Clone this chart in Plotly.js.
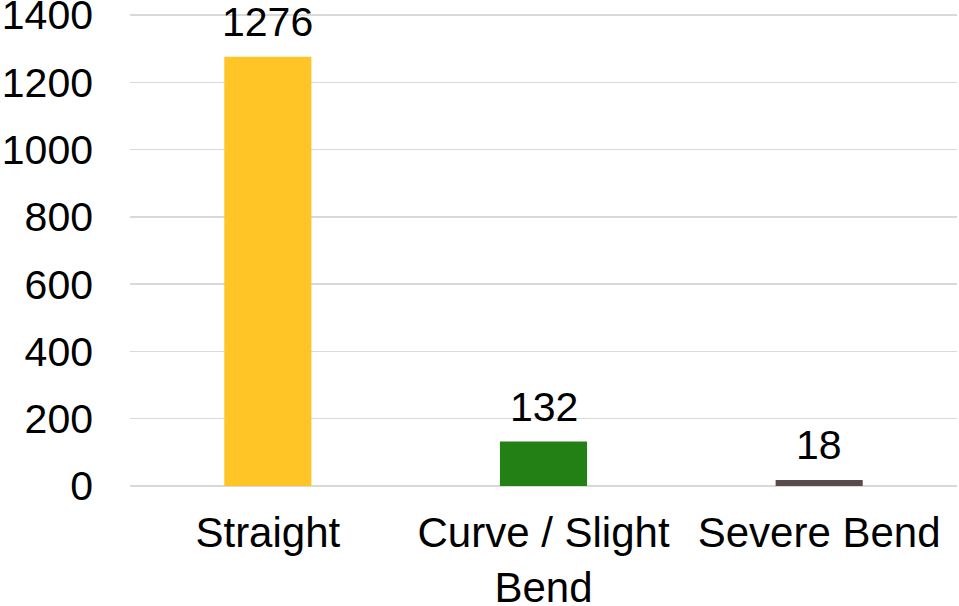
<!DOCTYPE html>
<html>
<head>
<meta charset="utf-8">
<script src="https://cdn.plot.ly/plotly-3.0.1.min.js"></script>
<style>html,body{margin:0;padding:0;background:#fff;}#chart{width:959px;height:606px;}</style>
</head>
<body>
<div id="chart"></div>
<script>
const categories = ["Straight", "Curve / Slight<br>Bend", "Severe Bend"];
const values = [1276, 132, 18];
const barColors = ["#FFC425", "#228014", "#594B49"];
const yTicks = [0, 200, 400, 600, 800, 1000, 1200, 1400];

const FONT = "Liberation Sans, Arial, sans-serif";

const trace = {
  type: "bar",
  x: categories,
  y: values,
  marker: {color: barColors, line: {width: 0}},
  width: 0.316,
  hoverinfo: "none",
  cliponaxis: false
};

const annotations = categories.map((c, i) => ({
  x: c, y: values[i], xref: "x", yref: "y",
  text: String(values[i]),
  showarrow: false, yanchor: "bottom", yshift: 10,
  font: {family: FONT, size: 41, color: "#000"}
}));

const layout = {
  width: 959, height: 606,
  margin: {l: 130, r: 2, t: 12, b: 120, pad: 0},
  paper_bgcolor: "#fff", plot_bgcolor: "#fff",
  showlegend: false,
  font: {family: FONT, size: 41, color: "#000"},
  xaxis: {
    type: "category",
    showgrid: false, zeroline: false, showline: false,
    ticks: "", ticklabelstandoff: 18,
    ticklabeloverflow: "allow",
    tickfont: {family: FONT, size: 42, color: "#000"},
    fixedrange: true
  },
  yaxis: {
    range: [0, 1409],
    tickvals: yTicks,
    ticktext: yTicks.map(String),
    showgrid: true, gridcolor: "#D9D9D9", gridwidth: 1.3,
    zeroline: true, zerolinecolor: "#D9D9D9", zerolinewidth: 1.3,
    showline: false, ticks: "", ticklabelstandoff: 36,
    ticklabeloverflow: "allow",
    tickfont: {family: FONT, size: 41, color: "#000"},
    fixedrange: true
  },
  annotations: annotations
};

Plotly.newPlot("chart", [trace], layout, {displayModeBar: false, staticPlot: true});
</script>
</body>
</html>
